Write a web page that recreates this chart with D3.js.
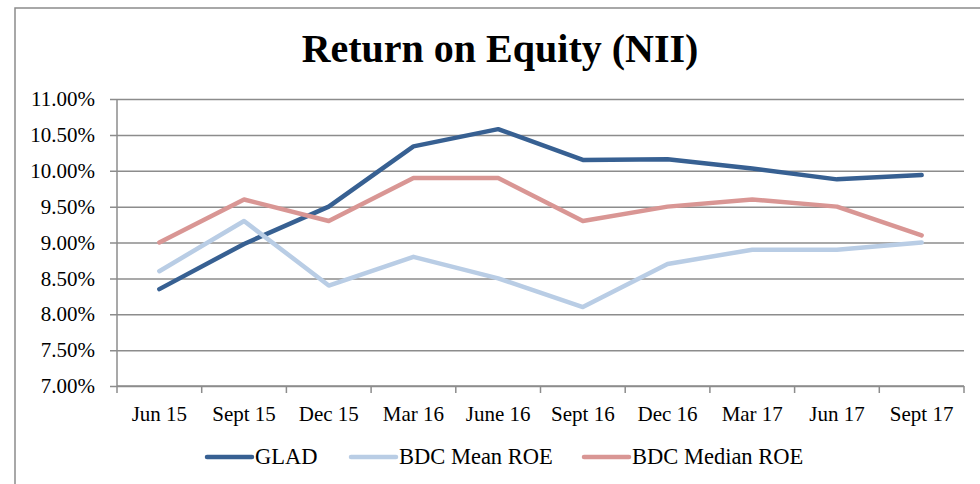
<!DOCTYPE html>
<html>
<head>
<meta charset="utf-8">
<script src="https://cdn.jsdelivr.net/npm/d3@7"></script>
<style>
  body { margin: 0; background: #fff; }
  svg text { font-family: "Liberation Serif", "Times New Roman", serif; fill: #000; }
  .axis path, .axis line { stroke: #8c8c8c; }
</style>
</head>
<body>
<svg id="chart" width="980" height="484"></svg>
<script>
// ROE (NII) comparison: GLAD vs BDC mean / median

const categories = ['Jun 15', 'Sept 15', 'Dec 15', 'Mar 16', 'June 16', 'Sept 16', 'Dec 16', 'Mar 17', 'Jun 17', 'Sept 17'];
const gladValues = [8.35, 8.98, 9.50, 10.34, 10.58, 10.15, 10.16, 10.03, 9.88, 9.94];
const meanValues = [8.60, 9.30, 8.40, 8.80, 8.50, 8.10, 8.70, 8.90, 8.90, 9.00];
const medianValues = [9.00, 9.60, 9.30, 9.90, 9.90, 9.30, 9.50, 9.60, 9.50, 9.10];
const yTicks = [7.0, 7.5, 8.0, 8.5, 9.0, 9.5, 10.0, 10.5, 11.0];

const series = [
  { name: 'GLAD', values: gladValues, color: '#376092' },
  { name: 'BDC Mean ROE', values: meanValues, color: '#b9cde5' },
  { name: 'BDC Median ROE', values: medianValues, color: '#d99694' },
];

const margin = { left: 117, right: 16, top: 99, bottom: 98 };
const svg = d3.select('#chart');
const W = +svg.attr('width');
const H = +svg.attr('height');
const width = W - margin.left - margin.right;
const height = H - margin.top - margin.bottom;

// outer chart border (cut off at right / bottom)
svg.append('rect')
  .attr('x', 15).attr('y', 8)
  .attr('width', 1000).attr('height', 1000)
  .attr('fill', 'none')
  .attr('stroke', '#8c8c8c')
  .attr('stroke-width', 1.5);

svg.append('text')
  .attr('x', 500)
  .attr('y', 62)
  .attr('text-anchor', 'middle')
  .style('font-size', '40px')
  .style('font-weight', 'bold')
  .text('Return on Equity (NII)');

const g = svg.append('g').attr('transform', `translate(${margin.left},${margin.top})`);

const x = d3.scaleBand().domain(categories).range([0, width]);
const y = d3.scaleLinear().domain([7, 11]).range([height, 0]);

// y axis with gridlines
const yAxis = d3.axisLeft(y)
  .tickValues(yTicks)
  .tickFormat(d => d3.format('.2f')(d) + '%')
  .tickSize(-width)
  .tickPadding(22);

g.append('g')
  .attr('class', 'axis y-axis')
  .call(yAxis)
  .call(sel => sel.select('.domain').remove())
  .call(sel => sel.selectAll('.tick line')
    .attr('x1', -7)
    .attr('stroke-width', 1.5))
  .call(sel => sel.selectAll('.tick text').style('font-size', '21px'));

g.append('line')
  .attr('x1', 0).attr('x2', 0)
  .attr('y1', 0).attr('y2', height)
  .attr('stroke', '#8c8c8c')
  .attr('stroke-width', 1.5);

// x axis: labels centred on bands, ticks on band boundaries
g.append('g')
  .attr('class', 'axis x-axis')
  .attr('transform', `translate(0,${height})`)
  .call(d3.axisBottom(x).tickSize(0).tickPadding(20))
  .call(sel => sel.select('.domain').remove())
  .call(sel => sel.selectAll('.tick text').style('font-size', '21px'));

g.append('line')
  .attr('x1', 0).attr('x2', width)
  .attr('y1', height).attr('y2', height)
  .attr('stroke', '#8c8c8c')
  .attr('stroke-width', 1.5);

g.selectAll('.x-boundary')
  .data(d3.range(categories.length + 1))
  .join('line')
  .attr('class', 'x-boundary')
  .attr('x1', i => i * x.step())
  .attr('x2', i => i * x.step())
  .attr('y1', height)
  .attr('y2', height + 7)
  .attr('stroke', '#8c8c8c')
  .attr('stroke-width', 1.5);

const line = d3.line()
  .x((d, i) => x(categories[i]) + x.bandwidth() / 2)
  .y(d => y(d));

g.selectAll('.series')
  .data(series)
  .join('path')
  .attr('class', 'series')
  .attr('fill', 'none')
  .attr('stroke', d => d.color)
  .attr('stroke-width', 4.5)
  .attr('stroke-linejoin', 'round')
  .attr('stroke-linecap', 'round')
  .attr('d', d => line(d.values));

// legend
const legendX = [207, 351, 584];
const legend = svg.append('g').attr('class', 'legend');
series.forEach((s, i) => {
  const lg = legend.append('g').attr('transform', `translate(${legendX[i]},457)`);
  lg.append('line')
    .attr('x1', 0).attr('x2', 45)
    .attr('stroke', s.color)
    .attr('stroke-width', 4.5)
    .attr('stroke-linecap', 'round');
  lg.append('text')
    .attr('x', 48)
    .attr('y', 7)
    .style('font-size', '22.5px')
    .text(s.name);
});
</script>
</body>
</html>
